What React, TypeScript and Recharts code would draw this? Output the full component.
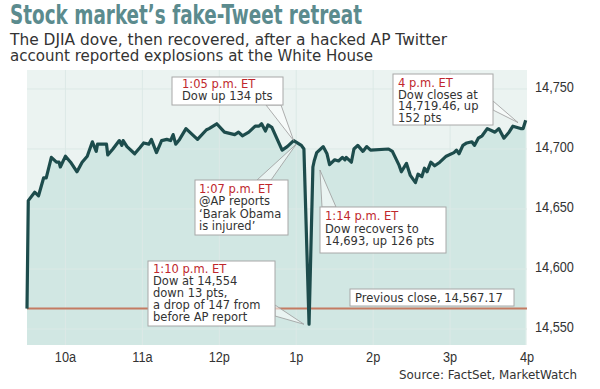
import {
  ComposedChart,
  Area,
  Line,
  XAxis,
  YAxis,
  CartesianGrid,
  ReferenceLine,
  ReferenceDot,
} from "recharts";

// minutes after the 9:30 open
const MINUTES = [
  0, 1, 6, 9, 13, 15, 19, 23, 25, 26, 30, 34, 39, 43, 47, 51, 54, 55, 62, 63,
  67, 72, 74, 75, 78, 84, 88, 91, 95, 97, 101, 105, 109, 112, 114, 116, 119,
  124, 129, 133, 140, 142, 148, 154, 158, 162, 165, 168, 173, 178, 181, 183,
  186, 188, 191, 199, 203, 208, 214, 216, 220, 223, 224, 226, 231, 234, 236,
  240, 243, 246, 248, 249, 253, 255, 258, 262, 265, 268, 282, 285, 290, 292,
  296, 299, 303, 305, 308, 310, 312, 315, 318, 322, 327, 333, 335, 337, 340,
  343, 347, 349, 352, 355, 359, 363, 365, 368, 372, 376, 379, 385, 387, 389,
];

const DOW = [
  14567, 14657, 14664, 14661, 14676, 14676, 14693, 14689, 14689, 14685, 14694,
  14689, 14681, 14689, 14694, 14706, 14698, 14704, 14704, 14695, 14700, 14707,
  14703, 14707, 14702, 14696, 14701, 14705, 14704, 14708, 14697, 14707, 14708,
  14707, 14712, 14704, 14708, 14717, 14712, 14708, 14716, 14717, 14721, 14714,
  14713, 14712, 14714, 14711, 14714, 14719, 14719, 14721, 14715, 14720, 14718,
  14699, 14702, 14707, 14703, 14700, 14554, 14685, 14690, 14697, 14702, 14696,
  14687, 14691, 14690, 14693, 14691, 14693, 14689, 14700, 14703, 14698, 14702,
  14699, 14700, 14698, 14687, 14681, 14688, 14678, 14672, 14679, 14677, 14684,
  14681, 14689, 14686, 14689, 14694, 14697, 14699, 14696, 14703, 14705, 14706,
  14703, 14709, 14711, 14717, 14715, 14714, 14717, 14709, 14714, 14719, 14717,
  14717, 14724,
];

const PREV_CLOSE = 14567.17;

const X_TICKS = [30, 90, 150, 210, 270, 330, 390];
const X_LABELS = ["10a", "11a", "12p", "1p", "2p", "3p", "4p"];
const Y_TICKS = [14550, 14600, 14650, 14700, 14750];
const Y_DOMAIN = [14536.7, 14765.8];

// callouts: target point on the chart, plus where the box sits
const CALLOUTS = [
  {
    t: 208, v: 14707,
    box: [172, 77, 111, 28], base: [[266, 105], [281, 105]],
    tx: 182, ty: 88, step: 12,
    lines: ["1:05 p.m. ET", "Dow up 134 pts"],
  },
  {
    t: 210, v: 14704,
    box: [195, 180, 93, 55], base: [[257, 180], [271, 180]],
    tx: 199, ty: 193, step: 12.3,
    lines: ["1:07 p.m. ET", "@AP reports", "‘Barak Obama", "is injured’"],
  },
  {
    t: 228.5, v: 14682.5,
    box: [320, 207, 126, 46], base: [[322, 207], [336, 207]],
    tx: 325, ty: 220, step: 12.5,
    lines: ["1:14 p.m. ET", "Dow recovers to", "14,693, up 126 pts"],
  },
  {
    t: 216, v: 14554,
    box: [148, 261, 127, 65], base: [[275, 305], [275, 316]],
    tx: 153, ty: 273, step: 12,
    lines: ["1:10 p.m. ET", "Dow at 14,554", "down 13 pts,", "a drop of 147 from", "before AP report"],
  },
  {
    t: 383, v: 14722,
    box: [393, 74, 100, 51], base: [[493, 101], [493, 110]],
    tx: 398, ty: 87, step: 11.7,
    lines: ["4 p.m. ET", "Dow closes at", "14,719.46, up", "152 pts"],
  },
];

const data = MINUTES.map((t, i) => ({ t, dow: DOW[i] }));

const BOX_FONT = "'DejaVu Sans', Verdana, sans-serif";

function XTick({ x, payload }: any) {
  const i = X_TICKS.indexOf(payload.value);
  return (
    <g transform={`translate(${x},362) scale(0.85,1)`}>
      <text x={0} y={0} textAnchor="middle" fontFamily="'Liberation Sans', Arial" fontSize={15} fill="#333">
        {X_LABELS[i]}
      </text>
    </g>
  );
}

function YTick({ y, payload }: any) {
  return (
    <g transform={`translate(535,${y + 3}) scale(0.85,1)`}>
      <text x={0} y={0} textAnchor="start" fontFamily="'Liberation Sans', Arial" fontSize={15} fill="#333">
        {payload.value.toLocaleString("en-US")}
      </text>
    </g>
  );
}

function makeCallout(c: (typeof CALLOUTS)[number]) {
  return ({ cx, cy }: any) => {
    const [bx, by, bw, bh] = c.box;
    const [[ax, ay], [bx2, by2]] = c.base;
    return (
      <g>
        <polygon
          points={`${ax},${ay} ${cx},${cy} ${bx2},${by2}`}
          fill="#fff"
          fillOpacity={0.55}
          stroke="#9a9a9a"
          strokeWidth={0.8}
        />
        <rect x={bx} y={by} width={bw} height={bh} fill="#fff" stroke="#a8a8a8" strokeWidth={1} />
        {c.lines.map((s, i) => (
          <text
            key={i}
            x={c.tx}
            y={c.ty + i * c.step}
            fontFamily={BOX_FONT}
            fontSize={11.5}
            fill={i === 0 ? "#c0272d" : "#333"}
          >
            {s}
          </text>
        ))}
      </g>
    );
  };
}

export default function App() {
  return (
    <div style={{ position: "absolute", left: 0, top: 0, width: 600, height: 389, background: "#fff" }}>
      <ComposedChart width={600} height={389} data={data} margin={{ top: 70, right: 0, bottom: 0, left: 27 }}>
        <CartesianGrid fill="#ebf3f1" stroke="none" />
        <XAxis
          dataKey="t"
          type="number"
          domain={[0, 390]}
          ticks={X_TICKS}
          height={44}
          axisLine={false}
          tickLine={false}
          tick={<XTick />}
        />
        <YAxis
          orientation="right"
          type="number"
          domain={Y_DOMAIN}
          ticks={Y_TICKS}
          width={73}
          axisLine={false}
          tickLine={false}
          tick={<YTick />}
        />
        <Area
          dataKey="dow"
          type="linear"
          stroke="none"
          fill="#d1e7e3"
          fillOpacity={1}
          isAnimationActive={false}
        />
        {X_TICKS.slice(0, -1).map((t) => (
          <ReferenceLine key={"x" + t} x={t} stroke="#dce9e6" strokeWidth={1} />
        ))}
        {Y_TICKS.map((v) => (
          <ReferenceLine key={"y" + v} y={v} stroke="#dce9e6" strokeWidth={1} />
        ))}
        <ReferenceLine y={PREV_CLOSE} stroke="#c47b62" strokeWidth={2} />
        <Line
          dataKey="dow"
          type="linear"
          stroke="#1d4c4c"
          strokeWidth={3.2}
          strokeLinejoin="round"
          dot={false}
          activeDot={false}
          isAnimationActive={false}
        />
        {CALLOUTS.map((c, i) => (
          <ReferenceDot key={i} x={c.t} y={c.v} r={0} shape={makeCallout(c)} />
        ))}
        <ReferenceDot
          x={250}
          y={PREV_CLOSE}
          r={0}
          shape={() => (
            <g>
              <rect x={350} y={289} width={164} height={17} fill="#fff" stroke="#a8a8a8" strokeWidth={1} />
              <text x={355} y={302} fontFamily={BOX_FONT} fontSize={11.5} fill="#333">
                Previous close, 14,567.17
              </text>
            </g>
          )}
        />
      </ComposedChart>
      <svg width={600} height={389} style={{ position: "absolute", left: 0, top: 0, pointerEvents: "none" }}>
        <text
          x={10}
          y={24}
          fontFamily="'DejaVu Sans Condensed', 'DejaVu Sans', sans-serif"
          fontStretch="condensed"
          fontWeight="bold"
          fontSize={26}
          fill="#5b8b8e"
          textLength={352}
          lengthAdjust="spacingAndGlyphs"
        >
          Stock market’s fake-Tweet retreat
        </text>
        <text x={10} y={45} fontFamily={BOX_FONT} fontSize={16} fill="#333" textLength={437} lengthAdjust="spacingAndGlyphs">
          The DJIA dove, then recovered, after a hacked AP Twitter
        </text>
        <text x={10} y={61} fontFamily={BOX_FONT} fontSize={16} fill="#333" textLength={363} lengthAdjust="spacingAndGlyphs">
          account reported explosions at the White House
        </text>
        <text x={399} y={379} fontFamily={BOX_FONT} fontSize={11.5} fill="#333" textLength={178} lengthAdjust="spacingAndGlyphs">
          Source: FactSet, MarketWatch
        </text>
      </svg>
    </div>
  );
}
